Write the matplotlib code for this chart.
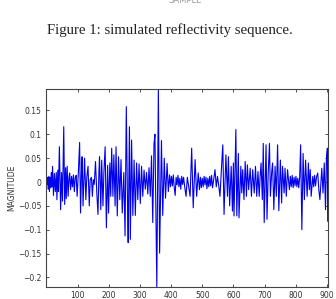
import matplotlib
matplotlib.use("Agg")
import matplotlib.pyplot as plt

# simulated reflectivity trace (sample index, magnitude)
sample = [
    1, 3, 5, 7, 9, 11, 13, 15, 17, 19, 22, 25, 28, 31, 33, 36, 38, 41, 45, 48,
    51, 55, 58, 61, 63, 66, 69, 72, 74, 77, 80, 83, 86, 89, 92, 95, 98, 102, 106, 109,
    112, 114, 117, 120, 122, 126, 129, 133, 137, 140, 144, 147, 150, 153, 157, 161, 165, 168, 170, 174,
    177, 181, 184, 188, 192, 196, 199, 203, 206, 209, 213, 216, 220, 223, 227, 231, 235, 239, 243, 248,
    252, 256, 260, 262, 266, 269, 273, 277, 281, 285, 289, 293, 297, 301, 305, 309, 313, 317, 321, 325,
    329, 333, 337, 341, 345, 348, 354, 359, 363, 369, 373, 378, 382, 387, 391, 395, 398, 401, 404, 407,
    410, 413, 416, 419, 422, 425, 428, 431, 434, 437, 440, 444, 448, 452, 456, 461, 466, 471, 477, 482,
    487, 491, 494, 497, 500, 503, 506, 509, 512, 515, 518, 521, 524, 527, 530, 533, 537, 541, 545, 549,
    553, 557, 561, 566, 570, 576, 581, 584, 588, 593, 597, 600, 602, 608, 611, 616, 618, 624, 627, 630,
    634, 638, 642, 645, 649, 654, 658, 662, 667, 671, 675, 679, 683, 686, 689, 693, 696, 699, 705, 708,
    712, 716, 719, 723, 726, 730, 734, 738, 742, 746, 751, 755, 758, 763, 766, 770, 774, 780, 783, 786,
    789, 792, 795, 798, 801, 804, 807, 810, 813, 816, 820, 824, 828, 832, 837, 841, 844, 847, 850, 855,
    858, 861, 864, 867, 871, 875, 878, 884, 888, 892, 896, 899, 902, 903,
]
magnitude = [
    -0.005, 0.01, -0.015, 0.012, -0.02, 0.01, -0.012, 0.02, -0.01, 0.033, -0.028, 0.018, -0.02, 0.02, -0.037, 0.025, -0.02, 0.074, -0.058, 0.02,
    -0.04, 0.116, -0.047, 0.03, -0.035, 0.033, -0.03, 0.01, 0.019, -0.016, 0.012, -0.01, 0.015, -0.02, 0.01, 0.014, -0.03, 0.02, 0.083, -0.065,
    0.02, 0.053, -0.05, 0.01, 0.05, -0.037, 0.01, 0.033, -0.05, 0.005, 0.01, -0.03, 0.005, -0.005, 0.043, -0.02, -0.068, 0.02, 0.053, -0.058,
    0.046, -0.05, 0.02, 0.074, -0.096, 0.035, -0.065, 0.04, -0.03, 0.071, -0.03, 0.057, -0.05, 0.074, -0.071, 0.053, -0.037, 0.047, -0.065, 0.02,
    -0.113, 0.158, -0.05, -0.127, 0.116, -0.12, 0.088, -0.07, 0.046, -0.07, 0.04, -0.037, 0.038, -0.045, 0.033, -0.03, 0.025, -0.015, 0.02, -0.025,
    0.03, -0.03, 0.055, -0.085, 0.08, 0.1, -0.22, 0.195, -0.149, 0.087, -0.07, 0.05, -0.034, 0.039, -0.02, 0.015, -0.01, 0.012, -0.008, 0.015,
    -0.012, -0.028, 0.01, -0.006, 0.014, -0.01, 0.008, -0.015, 0.012, -0.005, 0.01, -0.012, -0.03, 0.01, -0.008, -0.03, 0.071, -0.054, 0.047, -0.03,
    0.019, -0.016, 0.01, -0.012, 0.008, -0.01, 0.012, -0.006, 0.01, -0.014, 0.008, -0.01, 0.012, -0.008, 0.014, -0.012, 0.006, 0.026, -0.01, 0.012,
    -0.008, -0.03, 0.02, 0.078, -0.068, 0.057, -0.03, 0.053, -0.05, 0.033, -0.061, 0.04, -0.071, 0.11, -0.071, 0.06, -0.075, 0.033, -0.023, 0.026,
    -0.037, 0.043, -0.03, 0.036, -0.016, 0.029, -0.03, 0.026, -0.023, 0.033, -0.03, 0.022, -0.03, 0.012, 0.04, -0.037, 0.081, -0.085, 0.078, -0.078,
    0.02, 0.081, -0.03, 0.02, 0.04, -0.058, 0.033, -0.03, 0.078, -0.06, 0.046, -0.044, 0.033, -0.023, 0.029, -0.03, 0.026, -0.016, 0.012, -0.01,
    0.014, -0.012, 0.01, -0.008, 0.012, -0.01, 0.008, -0.012, 0.01, 0.078, -0.1, 0.06, -0.037, 0.046, -0.03, 0.04, -0.016, 0.026, -0.03, 0.012,
    -0.01, 0.014, -0.008, 0.01, 0.019, -0.02, -0.037, 0.029, -0.023, 0.04, -0.058, 0.05, 0.071, -0.082,
]

x_ticks = [100, 200, 300, 400, 500, 600, 700, 800, 900]
y_ticks = [-0.2, -0.15, -0.1, -0.05, 0, 0.05, 0.1, 0.15]
y_tick_labels = ["\u22120.2", "\u22120.15", "\u22120.1", "\u22120.05", "0", "0.05", "0.1", "0.15"]

fig = plt.figure(figsize=(3.36, 2.99), dpi=100)
fig.patch.set_facecolor("white")

# caption above the plot, as in the paper page
fig.text(0.506, 0.9, "Figure 1: simulated reflectivity sequence.",
         family="Liberation Serif", fontsize=10.6, ha="center", va="center",
         color="#222222")
# page header, cut by the top edge in the reference as well
fig.text(0.55, 0.998, "SAMPLE", fontsize=6, ha="center", va="center",
         color="#999999")

ax = fig.add_axes([46 / 336, 12 / 299, 282 / 336, 198 / 299])
ax.plot(sample, magnitude, color="#0000ee", linewidth=0.8)

ax.set_xlim(-2, 904)
ax.set_ylim(-0.22, 0.195)
ax.set_xticks(x_ticks)
ax.set_yticks(y_ticks)
ax.set_yticklabels(y_tick_labels)
ax.tick_params(direction="in", top=True, right=True, length=2.5, width=0.6,
               labelsize=5.5, pad=3, colors="#333333")
for s in ax.spines.values():
    s.set_linewidth(0.8)
    s.set_color("#444444")

ax.set_ylabel("MAGNITUDE", fontsize=5.5, color="#333333", labelpad=1.7)

fig.savefig("out.png", dpi=100)
